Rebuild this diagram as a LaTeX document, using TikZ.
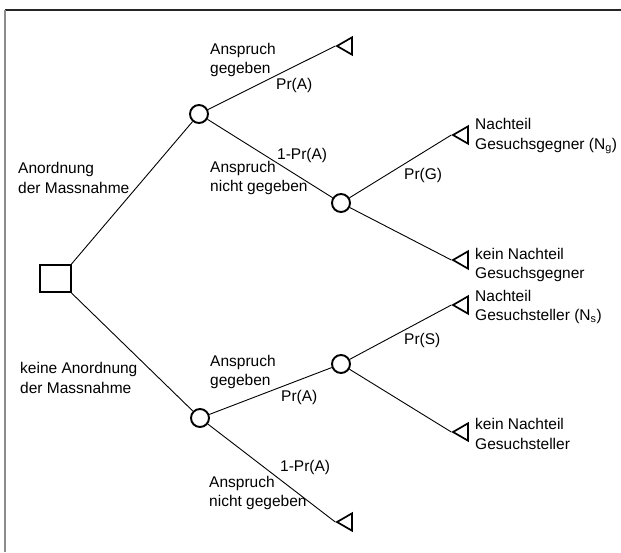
\documentclass[tikz,border=0pt]{standalone}
\usepackage{fontspec}
\setmainfont{Liberation Sans}
\usetikzlibrary{shapes.geometric}
\begin{document}
\begin{tikzpicture}[x=1pt, y=-1pt,
  decision/.style={draw, rectangle, line width=2pt, minimum width=31pt, minimum height=27pt, inner sep=0pt},
  chance/.style={draw, circle, line width=1.9pt, minimum size=18pt, inner sep=0pt},
  leaf/.style={draw, regular polygon, regular polygon sides=3, shape border rotate=90, line width=1.7pt, minimum size=20pt, inner sep=0pt},
  lbl/.style={anchor=west, inner sep=0pt, align=left, font=\fontsize{15.5}{19.5}\selectfont},
  branch/.style={line width=0.9pt}]
\useasboundingbox (0,0) rectangle (621,552);
% frame, only top and left edge visible
\draw[line width=1.4pt, black!85] (5,10) -- (621,10);
\draw[line width=2pt, black!45] (5,10) -- (5,552);
% tree
\node[decision] (sq) at (55,278.5) {};
\node[chance] (c1) at (199,114) {};
\node[chance] (c2) at (200,418) {};
\node[chance] (c3) at (341,203) {};
\node[chance] (c4) at (341,364) {};
\node[leaf] (t1) at (347,46) {};
\node[leaf] (t2) at (463,135) {};
\node[leaf] (t3) at (463,260) {};
\node[leaf] (t4) at (463,305) {};
\node[leaf] (t5) at (463,432) {};
\node[leaf] (t6) at (347,522) {};
\draw[branch] (sq.north east) -- (c1);
\draw[branch] (sq.south east) -- (c2);
\draw[branch] (c1) -- (t1.corner 1);
\draw[branch] (c1) -- (c3);
\draw[branch] (c3) -- (t2.corner 1);
\draw[branch] (c3) -- (t3.corner 1);
\draw[branch] (c2) -- (c4);
\draw[branch] (c2) -- (t6.corner 1);
\draw[branch] (c4) -- (t4.corner 1);
\draw[branch] (c4) -- (t5.corner 1);
% branch labels
\node[lbl] (anord) at (18,178) {Anordnung\\der Massnahme};
\node[lbl] (keine) at (20,378) {keine Anordnung\\der Massnahme};
\node[lbl] (ansp1) at (210,60) {Anspruch\\gegeben};
\node[lbl] (pra1) at (276,85) {Pr(A)};
\node[lbl] (prn1) at (277,155) {1-Pr(A)};
\node[lbl] (nicht1) at (210,178) {Anspruch\\nicht gegeben};
\node[lbl] (prg) at (404,175) {Pr(G)};
\node[lbl] (ansp2) at (210,372) {Anspruch\\gegeben};
\node[lbl] (pra2) at (281,397) {Pr(A)};
\node[lbl] (prs) at (404,340) {Pr(S)};
\node[lbl] (prn2) at (280,467) {1-Pr(A)};
\node[lbl] (nicht2) at (209,493) {Anspruch\\nicht gegeben};
% outcomes
\node[lbl] (ng) at (475,136) {Nachteil\\Gesuchsgegner (N\textsubscript{g})};
\node[lbl] (kng) at (475,265) {kein Nachteil\\Gesuchsgegner};
\node[lbl] (ns) at (475,307) {Nachteil\\Gesuchsteller (N\textsubscript{s})};
\node[lbl] (kns) at (475,434) {kein Nachteil\\Gesuchsteller};
\end{tikzpicture}
\end{document}
